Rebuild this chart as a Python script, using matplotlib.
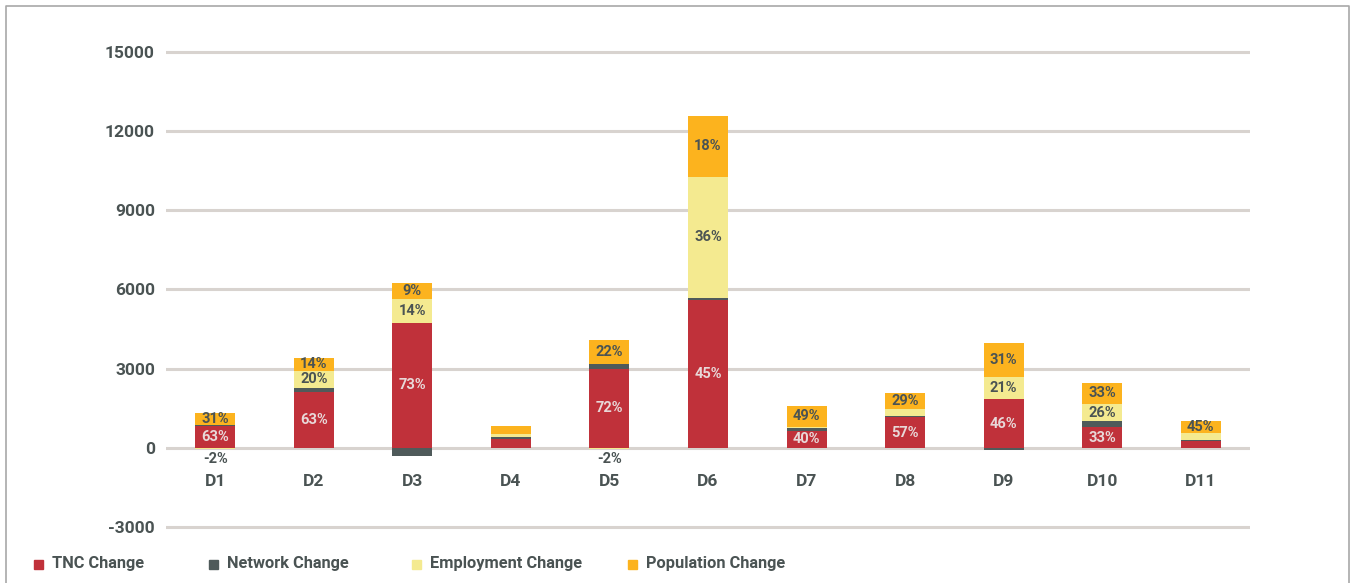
import numpy as np
import matplotlib.pyplot as plt
from matplotlib.patches import Rectangle

plt.rcParams["font.family"] = ["Roboto", "DejaVu Sans"]
plt.rcParams["axes.unicode_minus"] = False

districts = ["D1", "D2", "D3", "D4", "D5", "D6", "D7", "D8", "D9", "D10", "D11"]

tnc = [820, 2130, 4735, 325, 2990, 5600, 655, 1160, 1840, 780, 250]
network = [60, 125, -320, 75, 190, 75, 87, 30, -80, 227, 50]
employment = [-30, 670, 910, 130, -40, 4595, 64, 300, 860, 660, 250]
population = [430, 480, 590, 290, 925, 2310, 783, 605, 1275, 795, 470]

tnc_pct = ["63%", "63%", "73%", None, "72%", "45%", "40%", "57%", "46%", "33%", None]
employment_pct = ["-2%", "20%", "14%", None, "-2%", "36%", None, None, "21%", "26%", None]
population_pct = ["31%", "14%", "9%", None, "22%", "18%", "49%", "29%", "31%", "33%", "45%"]

series_names = ["TNC Change", "Network Change", "Employment Change", "Population Change"]
series_colors = ["#C0313A", "#4F5A5A", "#F4EA90", "#FCB31E"]
dark = "#4A5353"

fig = plt.figure(figsize=(13.51, 5.83), dpi=100)
ax = fig.add_axes([0.1229, 0.0892, 0.8023, 0.8285])

x = np.arange(len(districts))
width = 0.406
series = [tnc, network, employment, population]
pos_base = np.zeros(len(x))
neg_base = np.zeros(len(x))
bottoms = []
for vals, col in zip(series, series_colors):
    vals = np.array(vals, dtype=float)
    b = np.where(vals >= 0, pos_base, neg_base)
    ax.bar(x, vals, width, bottom=b, color=col, zorder=3)
    bottoms.append(b)
    pos_base = pos_base + np.clip(vals, 0, None)
    neg_base = neg_base + np.clip(vals, None, 0)

# percentage labels
label_sets = [(0, tnc_pct, "#E8D8D8"), (2, employment_pct, dark), (3, population_pct, dark)]
for idx, labels, tc in label_sets:
    vals = series[idx]
    for i, lab in enumerate(labels):
        if lab is None:
            continue
        if vals[i] < 0:
            y = -430
        else:
            y = bottoms[idx][i] + vals[i] / 2
        ax.text(x[i], y, lab, ha="center", va="center", fontsize=10.5,
                fontweight="bold", color=tc, zorder=4)

ax.set_xlim(-0.5, len(x) - 0.5)
ax.set_ylim(-3150, 15150)
ax.set_yticks(np.arange(-3000, 15001, 3000))
ax.yaxis.grid(True, color="#D8D3CF", linewidth=2.2, zorder=0)
ax.set_axisbelow(True)

ax.set_xticks(x)
ax.set_xticklabels(districts)
ax.spines["bottom"].set_position(("data", 0))
for s in ax.spines.values():
    s.set_visible(False)
ax.tick_params(axis="both", length=0, labelsize=12.5, labelcolor=dark)
ax.tick_params(axis="x", pad=19)
ax.tick_params(axis="y", pad=8)
for lab in ax.get_xticklabels() + ax.get_yticklabels():
    lab.set_fontweight("bold")

# legend along the bottom
leg_x = [34, 209, 412, 628]
for name, col, lx in zip(series_names, series_colors, leg_x):
    fig.patches.append(Rectangle((lx / 1351, (583 - 568.5) / 583), 9 / 1351, 9 / 583,
                                 transform=fig.transFigure, color=col))
    fig.text((lx + 18) / 1351, (583 - 563.5) / 583, name, ha="left", va="center",
             fontsize=11.8, fontweight="bold", color=dark)

# outer frame
fig.add_artist(plt.Line2D([6 / 1351, 6 / 1351, 1349 / 1351, 1349 / 1351],
                          [0, 1 - 6 / 583, 1 - 6 / 583, 0],
                          transform=fig.transFigure, color="#A8A8A8", linewidth=1.2))

fig.savefig("out.png", dpi=100)
